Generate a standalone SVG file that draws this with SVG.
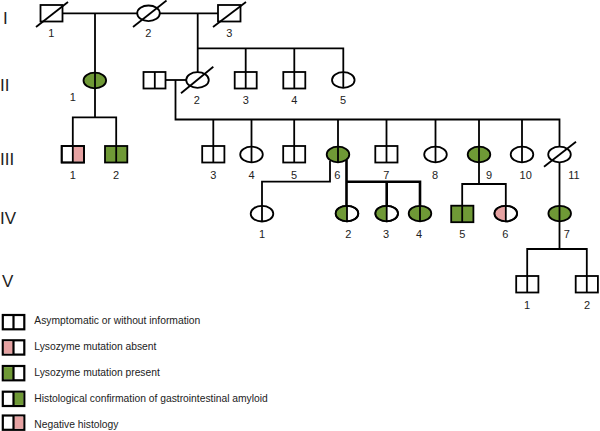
<svg xmlns="http://www.w3.org/2000/svg" width="600" height="431" viewBox="0 0 600 431">
<style>
.s{fill:#fff;stroke:#000;stroke-width:1.8}
.g{fill:#6f9936}
.p{fill:#e6a2a2}
.ln{fill:none;stroke:#000;stroke-width:1.8}
.c{fill:none;stroke:#000;stroke-width:1.8;stroke-linejoin:miter}
.lb{font-family:"Liberation Sans",Arial,sans-serif;font-size:11px;fill:#222;text-anchor:middle}
.gen{font-family:"Liberation Sans",Arial,sans-serif;font-size:17px;fill:#222}
.lg{font-family:"Liberation Sans",Arial,sans-serif;font-size:10.3px;fill:#222}
.lgb{fill:#fff;stroke:#000;stroke-width:2.2}
</style>
<rect width="600" height="431" fill="#fff"/>
<g id="generations">
<text class="gen" x="3" y="24.3">I</text>
<text class="gen" x="0" y="90.7">II</text>
<text class="gen" x="0" y="165">III</text>
<text class="gen" x="0" y="224.3">IV</text>
<text class="gen" x="2" y="286.5">V</text>
</g>
<g id="connectors">
<path class="c" d="M62.5,13.3 H137.2 M159.8,13.3 H218"/>
<path class="c" d="M95,13.3 V117.3"/>
<path class="c" d="M72.8,146 V117.3 H116.2 V146"/>
<path class="c" d="M197.7,13.3 V72.2"/>
<path class="c" d="M197.7,48.3 H343.3 V72.2 M245.7,48.3 V72 M294.3,48.3 V72"/>
<path class="c" d="M165.5,80 H186.2"/>
<path class="c" d="M175.5,80 V119.5 H559.5 V146.7"/>
<path class="c" d="M213.3,119.5 V146 M251.5,119.5 V146.7 M294.2,119.5 V146 M338,119.5 V146.7 M386.5,119.5 V146 M435.5,119.5 V146.7 M479,119.5 V146.7 M522,119.5 V146.7"/>
<path class="c" d="M330,161 V181.7 H262 V205.9"/>
<path class="c" style="stroke-width:2.6" d="M346.5,160 V205.8 M346.5,181.7 H420 V205.7 M386.7,181.7 V205.7"/>
<path class="c" d="M479,162.3 V184 M462.2,205.7 V184 H505.8 V205.7"/>
<path class="c" d="M559.5,162.3 V249 M527.2,276 V249 H586.8 V276"/>
</g>
<g id="I-1"><rect class="s" x="40.5" y="5" width="22" height="16.5"/><line class="ln" x1="36" y1="27" x2="68" y2="2"/><text class="lb" x="51.3" y="37">1</text></g>
<g id="I-2"><ellipse class="s" cx="148.5" cy="13.3" rx="11.3" ry="7.8"/><line class="ln" x1="133" y1="27" x2="166.5" y2="0.5"/><text class="lb" x="148.3" y="37">2</text></g>
<g id="I-3"><rect class="s" x="218" y="5" width="22.5" height="16.5"/><line class="ln" x1="213" y1="27" x2="246" y2="2"/><text class="lb" x="229.3" y="37">3</text></g>

<g id="II-1"><ellipse class="s g" cx="94.8" cy="80.5" rx="11.3" ry="7.8"/><line class="ln" x1="95" y1="72.7" x2="95" y2="88.3"/><text class="lb" x="72.7" y="101">1</text></g>
<g id="II-spouse"><rect class="s" x="143.5" y="72" width="22" height="16.5"/><line class="ln" x1="154.8" y1="72" x2="154.8" y2="88.5"/></g>
<g id="II-2"><ellipse class="s" cx="197.5" cy="80" rx="11.3" ry="7.8"/><line class="ln" x1="181" y1="93.3" x2="213.3" y2="66.7"/><text class="lb" x="196.7" y="104">2</text></g>
<g id="II-3"><rect class="s" x="234.7" y="72" width="22" height="16.5"/><line class="ln" x1="245.7" y1="72" x2="245.7" y2="88.5"/><text class="lb" x="245.7" y="104">3</text></g>
<g id="II-4"><rect class="s" x="283.3" y="72" width="22" height="16.5"/><line class="ln" x1="294.3" y1="72" x2="294.3" y2="88.5"/><text class="lb" x="294.3" y="104">4</text></g>
<g id="II-5"><ellipse class="s" cx="343.3" cy="80" rx="11.3" ry="7.8"/><line class="ln" x1="343.3" y1="72.2" x2="343.3" y2="87.8"/><text class="lb" x="343" y="104">5</text></g>

<g id="III-1"><rect class="s" x="61.7" y="146" width="22.3" height="16.5"/><rect class="p" x="72.8" y="146.9" width="10.3" height="14.7"/><rect x="61.7" y="146" width="22.3" height="16.5" fill="none" stroke="#000" stroke-width="1.8"/><line class="ln" x1="72.8" y1="146" x2="72.8" y2="162.5"/><text class="lb" x="72.7" y="178.5">1</text></g>
<g id="III-2"><rect class="s g" x="105" y="146" width="22.3" height="16.5"/><line class="ln" x1="116.2" y1="146" x2="116.2" y2="162.5"/><text class="lb" x="116" y="178.5">2</text></g>
<g id="III-3"><rect class="s" x="202.2" y="146" width="22.2" height="16.5"/><line class="ln" x1="213.3" y1="146" x2="213.3" y2="162.5"/><text class="lb" x="213.3" y="178.5">3</text></g>
<g id="III-4"><ellipse class="s" cx="251.5" cy="154.5" rx="11.3" ry="7.8"/><line class="ln" x1="251.5" y1="146.7" x2="251.5" y2="162.3"/><text class="lb" x="251.5" y="178.5">4</text></g>
<g id="III-5"><rect class="s" x="283.2" y="146" width="22" height="16.5"/><line class="ln" x1="294.2" y1="146" x2="294.2" y2="162.5"/><text class="lb" x="294" y="178.5">5</text></g>
<g id="III-6"><ellipse class="s g" cx="338" cy="154.5" rx="11.3" ry="7.8"/><line class="ln" x1="338" y1="146.7" x2="338" y2="162.3"/><text class="lb" x="337.3" y="178.5">6</text></g>
<g id="III-7"><rect class="s" x="375.3" y="146" width="22.2" height="16.5"/><line class="ln" x1="386.5" y1="146" x2="386.5" y2="162.5"/><text class="lb" x="386.3" y="178.5">7</text></g>
<g id="III-8"><ellipse class="s" cx="435.5" cy="154.5" rx="11.3" ry="7.8"/><line class="ln" x1="435.5" y1="146.7" x2="435.5" y2="162.3"/><text class="lb" x="435" y="178.5">8</text></g>
<g id="III-9"><ellipse class="s g" cx="479" cy="154.5" rx="11.3" ry="7.8"/><line class="ln" x1="479" y1="146.7" x2="479" y2="162.3"/><text class="lb" x="489" y="178.5">9</text></g>
<g id="III-10"><ellipse class="s" cx="522" cy="154.5" rx="11.3" ry="7.8"/><line class="ln" x1="522" y1="146.7" x2="522" y2="162.3"/><text class="lb" x="525.7" y="178.5">10</text></g>
<g id="III-11"><ellipse class="s" cx="559.5" cy="154.5" rx="11.3" ry="7.8"/><line class="ln" x1="544" y1="166.7" x2="576" y2="141.7"/><text class="lb" x="574" y="178.5">11</text></g>

<g id="IV-1"><ellipse class="s" cx="262" cy="213.7" rx="11.3" ry="7.8"/><line class="ln" x1="262" y1="205.9" x2="262" y2="221.5"/><text class="lb" x="262" y="238">1</text></g>
<g id="IV-2"><ellipse class="s" cx="347" cy="213.6" rx="11.3" ry="7.8"/><path class="g" d="M347,205.8 A11.3,7.8 0 0 0 347,221.4 Z"/><ellipse cx="347" cy="213.6" rx="11.3" ry="7.8" fill="none" stroke="#000" stroke-width="1.8"/><line class="ln" x1="347" y1="205.8" x2="347" y2="221.4"/><text class="lb" x="348.3" y="238">2</text></g>
<g id="IV-3"><ellipse class="s" cx="386.7" cy="213.6" rx="11.3" ry="7.8"/><path class="g" d="M386.7,205.8 A11.3,7.8 0 0 0 386.7,221.4 Z"/><ellipse cx="386.7" cy="213.6" rx="11.3" ry="7.8" fill="none" stroke="#000" stroke-width="1.8"/><line class="ln" x1="386.7" y1="205.8" x2="386.7" y2="221.4"/><text class="lb" x="386" y="238">3</text></g>
<g id="IV-4"><ellipse class="s g" cx="420" cy="213.6" rx="11.3" ry="7.8"/><line class="ln" x1="420" y1="205.8" x2="420" y2="221.4"/><text class="lb" x="419" y="238">4</text></g>
<g id="IV-5"><rect class="s g" x="451.2" y="205.7" width="22.2" height="16.5"/><line class="ln" x1="462.2" y1="205.7" x2="462.2" y2="222.2"/><text class="lb" x="462.3" y="238">5</text></g>
<g id="IV-6"><ellipse class="s" cx="505.8" cy="213.6" rx="11.3" ry="7.8"/><path class="p" d="M505.8,205.8 A11.3,7.8 0 0 0 505.8,221.4 Z"/><ellipse cx="505.8" cy="213.6" rx="11.3" ry="7.8" fill="none" stroke="#000" stroke-width="1.8"/><line class="ln" x1="505.8" y1="205.8" x2="505.8" y2="221.4"/><text class="lb" x="505.3" y="238">6</text></g>
<g id="IV-7"><ellipse class="s g" cx="559.7" cy="213.6" rx="11.3" ry="7.8"/><line class="ln" x1="559.5" y1="205.8" x2="559.5" y2="221.4"/><text class="lb" x="566.7" y="238">7</text></g>

<g id="V-1"><rect class="s" x="516.2" y="276" width="22.2" height="16.5"/><line class="ln" x1="527.2" y1="276" x2="527.2" y2="292.5"/><text class="lb" x="527" y="309">1</text></g>
<g id="V-2"><rect class="s" x="575.7" y="276" width="22.2" height="16.5"/><line class="ln" x1="586.8" y1="276" x2="586.8" y2="292.5"/><text class="lb" x="587" y="309">2</text></g>

<g id="legend">
<g id="legend-1"><rect class="lgb" x="2.8" y="315" width="21.5" height="14.3"/><line class="ln" style="stroke-width:2.2" x1="13.5" y1="315" x2="13.5" y2="329.3"/><text class="lg" x="34.3" y="324">Asymptomatic or without information</text></g>
<g id="legend-2"><rect class="lgb" x="2.8" y="340.3" width="21.5" height="14.3"/><rect class="p" x="3.9" y="341.4" width="9.6" height="12.1"/><line class="ln" style="stroke-width:2.2" x1="13.5" y1="340.3" x2="13.5" y2="354.6"/><text class="lg" x="34.3" y="350">Lysozyme mutation absent</text></g>
<g id="legend-3"><rect class="lgb" x="2.8" y="366" width="21.5" height="14.3"/><rect class="g" x="3.9" y="367.1" width="9.6" height="12.1"/><line class="ln" style="stroke-width:2.2" x1="13.5" y1="366" x2="13.5" y2="380.3"/><text class="lg" x="34.3" y="376">Lysozyme mutation present</text></g>
<g id="legend-4"><rect class="lgb" x="2.8" y="391.7" width="21.5" height="14.3"/><rect class="g" x="13.5" y="392.8" width="9.7" height="12.1"/><line class="ln" style="stroke-width:2.2" x1="13.5" y1="391.7" x2="13.5" y2="406"/><text class="lg" x="34.3" y="402.2">Histological confirmation of gastrointestinal amyloid</text></g>
<g id="legend-5"><rect class="lgb" x="2.8" y="415.5" width="21.5" height="14.3"/><rect class="p" x="13.5" y="416.6" width="9.7" height="12.1"/><line class="ln" style="stroke-width:2.2" x1="13.5" y1="415.5" x2="13.5" y2="429.8"/><text class="lg" x="34.3" y="428">Negative histology</text></g>
</g>
</svg>
